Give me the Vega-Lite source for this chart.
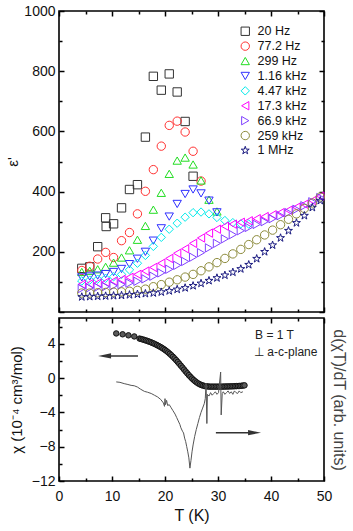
{
  "$schema": "https://vega.github.io/schema/vega-lite/v6.json",
  "padding": {"left": 5, "top": 3, "right": 0, "bottom": 0},
  "background": "white",
  "config": {
    "font": "Liberation Sans",
    "view": {"stroke": "#000", "strokeWidth": 1.6},
    "axis": {"labelFont": "Liberation Sans", "titleFont": "Liberation Sans", "labelFontSize": 14, "titleFontSize": 15, "titleFontWeight": "normal", "labelColor": "#111", "titleColor": "#111", "tickColor": "#000", "tickWidth": 1.5, "domain": false, "grid": false, "labelOverlap": false, "labelFlush": false}
  },
  "datasets": {
    "eps": [
      {"f":"20 Hz","T":4.3,"e":145},{"f":"20 Hz","T":5.8,"e":150},{"f":"20 Hz","T":7.3,"e":217},{"f":"20 Hz","T":8.8,"e":313},{"f":"20 Hz","T":8.9,"e":284},{"f":"20 Hz","T":10.3,"e":293},{"f":"20 Hz","T":11.8,"e":346},{"f":"20 Hz","T":13.3,"e":407},{"f":"20 Hz","T":14.8,"e":423},{"f":"20 Hz","T":16.3,"e":581},{"f":"20 Hz","T":17.8,"e":783},{"f":"20 Hz","T":19.3,"e":737},{"f":"20 Hz","T":20.8,"e":791},{"f":"20 Hz","T":22.3,"e":731},{"f":"20 Hz","T":23.8,"e":633},{"f":"20 Hz","T":25.3,"e":451},
      {"f":"77.2 Hz","T":4.3,"e":138},{"f":"77.2 Hz","T":5.8,"e":152},{"f":"77.2 Hz","T":7.3,"e":176},{"f":"77.2 Hz","T":8.8,"e":198},{"f":"77.2 Hz","T":10.3,"e":181},{"f":"77.2 Hz","T":11.8,"e":237},{"f":"77.2 Hz","T":13.3,"e":264},{"f":"77.2 Hz","T":14.8,"e":326},{"f":"77.2 Hz","T":16.3,"e":401},{"f":"77.2 Hz","T":17.8,"e":473},{"f":"77.2 Hz","T":19.3,"e":551},{"f":"77.2 Hz","T":20.8,"e":620},{"f":"77.2 Hz","T":22.3,"e":634},{"f":"77.2 Hz","T":23.8,"e":598},{"f":"77.2 Hz","T":25.3,"e":534},{"f":"77.2 Hz","T":26.8,"e":435},
      {"f":"299 Hz","T":4.3,"e":133},{"f":"299 Hz","T":5.8,"e":137},{"f":"299 Hz","T":7.3,"e":142},{"f":"299 Hz","T":8.8,"e":150},{"f":"299 Hz","T":10.3,"e":164},{"f":"299 Hz","T":11.8,"e":181},{"f":"299 Hz","T":13.3,"e":205},{"f":"299 Hz","T":14.8,"e":240},{"f":"299 Hz","T":16.3,"e":286},{"f":"299 Hz","T":17.8,"e":340},{"f":"299 Hz","T":19.3,"e":396},{"f":"299 Hz","T":20.8,"e":459},{"f":"299 Hz","T":22.3,"e":503},{"f":"299 Hz","T":23.8,"e":513},{"f":"299 Hz","T":25.3,"e":490},{"f":"299 Hz","T":26.8,"e":437},{"f":"299 Hz","T":28.3,"e":373},{"f":"299 Hz","T":29.8,"e":334},
      {"f":"1.16 kHz","T":4.3,"e":115},{"f":"1.16 kHz","T":5.8,"e":118},{"f":"1.16 kHz","T":7.3,"e":121},{"f":"1.16 kHz","T":8.8,"e":126},{"f":"1.16 kHz","T":10.3,"e":133},{"f":"1.16 kHz","T":11.8,"e":143},{"f":"1.16 kHz","T":13.3,"e":159},{"f":"1.16 kHz","T":14.8,"e":177},{"f":"1.16 kHz","T":16.3,"e":200},{"f":"1.16 kHz","T":17.8,"e":237},{"f":"1.16 kHz","T":19.3,"e":278},{"f":"1.16 kHz","T":20.8,"e":317},{"f":"1.16 kHz","T":22.3,"e":359},{"f":"1.16 kHz","T":23.8,"e":392},{"f":"1.16 kHz","T":25.3,"e":407},{"f":"1.16 kHz","T":26.8,"e":394},{"f":"1.16 kHz","T":28.3,"e":370},{"f":"1.16 kHz","T":29.8,"e":331},
      {"f":"4.47 kHz","T":4.3,"e":103},{"f":"4.47 kHz","T":5.8,"e":106},{"f":"4.47 kHz","T":7.3,"e":109},{"f":"4.47 kHz","T":8.8,"e":112},{"f":"4.47 kHz","T":10.3,"e":117},{"f":"4.47 kHz","T":11.8,"e":125},{"f":"4.47 kHz","T":13.3,"e":140},{"f":"4.47 kHz","T":14.8,"e":162},{"f":"4.47 kHz","T":16.3,"e":188},{"f":"4.47 kHz","T":17.8,"e":218},{"f":"4.47 kHz","T":19.3,"e":248},{"f":"4.47 kHz","T":20.8,"e":275},{"f":"4.47 kHz","T":22.3,"e":295},{"f":"4.47 kHz","T":23.8,"e":315},{"f":"4.47 kHz","T":25.3,"e":330},{"f":"4.47 kHz","T":26.8,"e":332},{"f":"4.47 kHz","T":28.3,"e":326},{"f":"4.47 kHz","T":29.8,"e":314},{"f":"4.47 kHz","T":31.3,"e":304},{"f":"4.47 kHz","T":32.8,"e":297},{"f":"4.47 kHz","T":34.3,"e":293},{"f":"4.47 kHz","T":35.8,"e":292},
      {"f":"17.3 kHz","T":4.3,"e":92},{"f":"17.3 kHz","T":5.8,"e":94},{"f":"17.3 kHz","T":7.3,"e":96},{"f":"17.3 kHz","T":8.8,"e":99},{"f":"17.3 kHz","T":10.3,"e":103},{"f":"17.3 kHz","T":11.8,"e":108},{"f":"17.3 kHz","T":13.3,"e":115},{"f":"17.3 kHz","T":14.8,"e":125},{"f":"17.3 kHz","T":16.3,"e":136},{"f":"17.3 kHz","T":17.8,"e":148},{"f":"17.3 kHz","T":19.3,"e":162},{"f":"17.3 kHz","T":20.8,"e":178},{"f":"17.3 kHz","T":22.3,"e":195},{"f":"17.3 kHz","T":23.8,"e":210},{"f":"17.3 kHz","T":25.3,"e":228},{"f":"17.3 kHz","T":26.8,"e":246},{"f":"17.3 kHz","T":28.3,"e":262},{"f":"17.3 kHz","T":29.8,"e":275},{"f":"17.3 kHz","T":31.3,"e":285},{"f":"17.3 kHz","T":32.8,"e":292},{"f":"17.3 kHz","T":34.3,"e":298},{"f":"17.3 kHz","T":35.8,"e":303},{"f":"17.3 kHz","T":37.3,"e":310},{"f":"17.3 kHz","T":38.8,"e":317},{"f":"17.3 kHz","T":40.3,"e":323},{"f":"17.3 kHz","T":41.8,"e":330},{"f":"17.3 kHz","T":43.3,"e":338},{"f":"17.3 kHz","T":44.8,"e":348},{"f":"17.3 kHz","T":46.3,"e":358},{"f":"17.3 kHz","T":47.8,"e":370},{"f":"17.3 kHz","T":49.3,"e":385},
      {"f":"66.9 kHz","T":4.3,"e":78},{"f":"66.9 kHz","T":5.8,"e":80},{"f":"66.9 kHz","T":7.3,"e":82},{"f":"66.9 kHz","T":8.8,"e":84},{"f":"66.9 kHz","T":10.3,"e":87},{"f":"66.9 kHz","T":11.8,"e":91},{"f":"66.9 kHz","T":13.3,"e":96},{"f":"66.9 kHz","T":14.8,"e":102},{"f":"66.9 kHz","T":16.3,"e":110},{"f":"66.9 kHz","T":17.8,"e":119},{"f":"66.9 kHz","T":19.3,"e":130},{"f":"66.9 kHz","T":20.8,"e":142},{"f":"66.9 kHz","T":22.3,"e":155},{"f":"66.9 kHz","T":23.8,"e":168},{"f":"66.9 kHz","T":25.3,"e":182},{"f":"66.9 kHz","T":26.8,"e":197},{"f":"66.9 kHz","T":28.3,"e":213},{"f":"66.9 kHz","T":29.8,"e":228},{"f":"66.9 kHz","T":31.3,"e":243},{"f":"66.9 kHz","T":32.8,"e":257},{"f":"66.9 kHz","T":34.3,"e":270},{"f":"66.9 kHz","T":35.8,"e":281},{"f":"66.9 kHz","T":37.3,"e":291},{"f":"66.9 kHz","T":38.8,"e":300},{"f":"66.9 kHz","T":40.3,"e":310},{"f":"66.9 kHz","T":41.8,"e":320},{"f":"66.9 kHz","T":43.3,"e":330},{"f":"66.9 kHz","T":44.8,"e":341},{"f":"66.9 kHz","T":46.3,"e":353},{"f":"66.9 kHz","T":47.8,"e":366},{"f":"66.9 kHz","T":49.3,"e":380},
      {"f":"259 kHz","T":4.3,"e":63},{"f":"259 kHz","T":5.8,"e":63},{"f":"259 kHz","T":7.3,"e":64},{"f":"259 kHz","T":8.8,"e":65},{"f":"259 kHz","T":10.3,"e":66},{"f":"259 kHz","T":11.8,"e":67},{"f":"259 kHz","T":13.3,"e":69},{"f":"259 kHz","T":14.8,"e":72},{"f":"259 kHz","T":16.3,"e":76},{"f":"259 kHz","T":17.8,"e":84},{"f":"259 kHz","T":19.3,"e":91},{"f":"259 kHz","T":20.8,"e":99},{"f":"259 kHz","T":22.3,"e":107},{"f":"259 kHz","T":23.8,"e":116},{"f":"259 kHz","T":25.3,"e":125},{"f":"259 kHz","T":26.8,"e":137},{"f":"259 kHz","T":28.3,"e":150},{"f":"259 kHz","T":29.8,"e":164},{"f":"259 kHz","T":31.3,"e":178},{"f":"259 kHz","T":32.8,"e":193},{"f":"259 kHz","T":34.3,"e":208},{"f":"259 kHz","T":35.8,"e":224},{"f":"259 kHz","T":37.3,"e":240},{"f":"259 kHz","T":38.8,"e":256},{"f":"259 kHz","T":40.3,"e":272},{"f":"259 kHz","T":41.8,"e":290},{"f":"259 kHz","T":43.3,"e":308},{"f":"259 kHz","T":44.8,"e":326},{"f":"259 kHz","T":46.3,"e":344},{"f":"259 kHz","T":47.8,"e":362},{"f":"259 kHz","T":49.3,"e":382},
      {"f":"1 MHz","T":4.3,"e":50},{"f":"1 MHz","T":5.8,"e":51},{"f":"1 MHz","T":7.3,"e":52},{"f":"1 MHz","T":8.8,"e":53},{"f":"1 MHz","T":10.3,"e":54},{"f":"1 MHz","T":11.8,"e":55},{"f":"1 MHz","T":13.3,"e":57},{"f":"1 MHz","T":14.8,"e":59},{"f":"1 MHz","T":16.3,"e":61},{"f":"1 MHz","T":17.8,"e":63},{"f":"1 MHz","T":19.3,"e":66},{"f":"1 MHz","T":20.8,"e":70},{"f":"1 MHz","T":22.3,"e":75},{"f":"1 MHz","T":23.8,"e":80},{"f":"1 MHz","T":25.3,"e":87},{"f":"1 MHz","T":26.8,"e":95},{"f":"1 MHz","T":28.3,"e":104},{"f":"1 MHz","T":29.8,"e":113},{"f":"1 MHz","T":31.3,"e":122},{"f":"1 MHz","T":32.8,"e":132},{"f":"1 MHz","T":34.3,"e":143},{"f":"1 MHz","T":35.8,"e":157},{"f":"1 MHz","T":37.3,"e":177},{"f":"1 MHz","T":38.8,"e":200},{"f":"1 MHz","T":40.3,"e":222},{"f":"1 MHz","T":41.8,"e":246},{"f":"1 MHz","T":43.3,"e":270},{"f":"1 MHz","T":44.8,"e":296},{"f":"1 MHz","T":46.3,"e":320},{"f":"1 MHz","T":47.8,"e":347},{"f":"1 MHz","T":49.3,"e":370}
    ],
    "chi": [
      {"T":10.8,"c":5.2},{"T":12.0,"c":5.1},{"T":13.1,"c":4.98},{"T":14.2,"c":4.85},
      {"T":15.2,"c":4.6},{"T":15.5,"c":4.55},{"T":15.8,"c":4.5},{"T":16.1,"c":4.44},{"T":16.4,"c":4.38},{"T":16.7,"c":4.32},{"T":17.0,"c":4.25},{"T":17.3,"c":4.18},{"T":17.6,"c":4.1},{"T":17.9,"c":4.02},{"T":18.2,"c":3.93},{"T":18.5,"c":3.84},{"T":18.8,"c":3.74},{"T":19.1,"c":3.64},{"T":19.4,"c":3.53},{"T":19.7,"c":3.41},{"T":20.0,"c":3.28},{"T":20.3,"c":3.14},{"T":20.6,"c":2.99},{"T":20.9,"c":2.83},{"T":21.2,"c":2.66},{"T":21.5,"c":2.48},{"T":21.8,"c":2.29},{"T":22.1,"c":2.09},{"T":22.4,"c":1.88},{"T":22.7,"c":1.66},{"T":23.0,"c":1.44},{"T":23.3,"c":1.22},{"T":23.6,"c":0.99},{"T":23.9,"c":0.77},{"T":24.2,"c":0.55},{"T":24.5,"c":0.34},{"T":24.8,"c":0.14},{"T":25.1,"c":-0.05},{"T":25.4,"c":-0.22},{"T":25.7,"c":-0.38},{"T":26.0,"c":-0.52},{"T":26.3,"c":-0.64},{"T":26.6,"c":-0.74},{"T":26.9,"c":-0.82},{"T":27.2,"c":-0.88},{"T":27.5,"c":-0.93},{"T":27.8,"c":-0.96},{"T":28.1,"c":-0.98},{"T":28.4,"c":-1.0},{"T":28.7,"c":-1.0},{"T":29.0,"c":-1.0},{"T":29.3,"c":-1.0},{"T":29.6,"c":-1.0},{"T":29.9,"c":-1.0},{"T":30.2,"c":-1.0},{"T":30.5,"c":-1.0},{"T":30.8,"c":-1.0},{"T":31.1,"c":-0.99},{"T":31.4,"c":-0.99},{"T":31.7,"c":-0.98},{"T":32.0,"c":-0.98},{"T":32.3,"c":-0.97},{"T":32.6,"c":-0.97},{"T":32.9,"c":-0.96},{"T":33.2,"c":-0.95},{"T":33.5,"c":-0.94},{"T":33.8,"c":-0.93},{"T":34.1,"c":-0.92},{"T":34.4,"c":-0.9},{"T":34.7,"c":-0.88},{"T":35.0,"c":-0.85}
    ],
    "deriv": [
      {"T":10.8,"d":-0.45},{"T":11.5,"d":-0.5},{"T":12.3,"d":-0.65},{"T":13.0,"d":-0.75},{"T":13.6,"d":-0.85},{"T":14.2,"d":-0.9},{"T":14.8,"d":-1.05},{"T":15.4,"d":-1.3},{"T":16.1,"d":-1.55},{"T":16.7,"d":-1.65},{"T":17.4,"d":-1.8},{"T":18.0,"d":-2.0},{"T":18.6,"d":-2.2},{"T":19.2,"d":-2.5},{"T":19.7,"d":-2.9},{"T":19.9,"d":-3.3},{"T":20.0,"d":-2.4},{"T":20.1,"d":-3.1},{"T":20.3,"d":-2.6},{"T":20.5,"d":-3.2},{"T":20.8,"d":-3.1},{"T":21.1,"d":-3.4},{"T":21.5,"d":-3.8},{"T":21.9,"d":-4.2},{"T":22.2,"d":-4.6},{"T":22.5,"d":-5.0},{"T":22.8,"d":-5.4},{"T":23.0,"d":-5.8},{"T":23.3,"d":-6.2},{"T":23.5,"d":-6.4},{"T":23.7,"d":-7.0},{"T":23.9,"d":-7.4},{"T":24.1,"d":-8.0},{"T":24.3,"d":-8.6},{"T":24.5,"d":-9.3},{"T":24.7,"d":-10.5},{"T":24.9,"d":-9.6},{"T":25.1,"d":-8.6},{"T":25.3,"d":-7.8},{"T":25.6,"d":-6.8},{"T":25.9,"d":-6.0},{"T":26.2,"d":-5.3},{"T":26.5,"d":-4.6},{"T":26.8,"d":-4.0},{"T":27.1,"d":-3.5},{"T":27.4,"d":-3.0},{"T":27.6,"d":-2.4},{"T":27.75,"d":-0.6},{"T":27.9,"d":-5.3},{"T":28.0,"d":-1.9},{"T":28.3,"d":-2.1},{"T":28.6,"d":-1.7},{"T":28.9,"d":-2.0},{"T":29.2,"d":-1.8},{"T":29.5,"d":-1.6},{"T":29.8,"d":-1.9},{"T":30.1,"d":-1.7},{"T":30.5,"d":0.7},{"T":30.6,"d":-4.3},{"T":30.8,"d":-1.8},{"T":31.0,"d":-1.6},{"T":31.3,"d":-1.9},{"T":31.6,"d":-1.7},{"T":31.9,"d":-1.5},{"T":32.2,"d":-1.8},{"T":32.5,"d":-1.6},{"T":32.8,"d":-1.9},{"T":33.1,"d":-1.5},{"T":33.4,"d":-1.7},{"T":33.7,"d":-1.8},{"T":34.0,"d":-1.5},{"T":34.3,"d":-1.7},{"T":34.7,"d":-1.6}
    ]
  },
  "vconcat": [
    {
      "width": 265,
      "height": 301,
      "resolve": {"axis": {"x": "independent", "y": "independent"}},
      "layer": [
        {
          "data": {"name": "eps"},
          "mark": {"type": "point", "filled": false, "size": 70, "strokeWidth": 1, "opacity": 1},
          "encoding": {
            "x": {"field": "T", "type": "quantitative", "scale": {"domain": [0, 50], "nice": false},
              "axis": {"orient": "bottom", "title": null, "labels": false, "values": [0,10,20,30,40,50], "offset": -5, "tickSize": 5}},
            "y": {"field": "e", "type": "quantitative", "scale": {"domain": [0, 1000], "nice": false},
              "axis": {"orient": "left", "title": "ε'", "titlePadding": 3, "format": "d", "values": [0,200,400,600,800,1000], "labelExpr": "datum.value > 0 ? datum.label : ''", "labelPadding": 4, "offset": -5, "tickSize": 5}},
            "color": {"field": "f", "type": "nominal",
              "scale": {"domain": ["20 Hz","77.2 Hz","299 Hz","1.16 kHz","4.47 kHz","17.3 kHz","66.9 kHz","259 kHz","1 MHz"],
                        "range": ["#333333","#ff3030","#22dd22","#3030ff","#00eaea","#ff00ff","#8040ff","#8c8a3a","#1a1a80"]},
              "legend": {"orient": "none", "legendX": 180, "legendY": 14, "title": null, "labelFontSize": 12.5, "labelFont": "Liberation Sans", "labelColor": "#111", "symbolSize": 70, "symbolStrokeWidth": 1, "rowPadding": 1.9, "labelOffset": 6, "padding": 0}},
            "shape": {"field": "f", "type": "nominal",
              "scale": {"domain": ["20 Hz","77.2 Hz","299 Hz","1.16 kHz","4.47 kHz","17.3 kHz","66.9 kHz","259 kHz","1 MHz"],
                        "range": ["square","circle","triangle-up","triangle-down","diamond","triangle-left","triangle-right","circle","M0,-1L0.2245,-0.309L0.9511,-0.309L0.3633,0.118L0.5878,0.809L0,0.382L-0.5878,0.809L-0.3633,0.118L-0.9511,-0.309L-0.2245,-0.309Z"]},
              "legend": {"orient": "none", "legendX": 180, "legendY": 14, "title": null, "labelFontSize": 12.5, "labelFont": "Liberation Sans", "labelColor": "#111", "symbolSize": 70, "symbolStrokeWidth": 1, "rowPadding": 1.9, "labelOffset": 6, "padding": 0}}
          }
        },
        {
          "data": {"name": "eps"},
          "transform": [{"filter": "false"}],
          "mark": {"type": "point"},
          "encoding": {
            "x": {"field": "T", "type": "quantitative", "axis": {"orient": "bottom", "title": null, "labels": false, "values": [5,15,25,35,45], "offset": -3, "tickSize": 3}},
            "y": {"field": "e", "type": "quantitative", "axis": {"orient": "left", "title": null, "labels": false, "values": [100,300,500,700,900], "offset": -3, "tickSize": 3}}
          }
        },
        {
          "data": {"name": "eps"},
          "transform": [{"filter": "false"}],
          "mark": {"type": "point"},
          "encoding": {
            "x": {"field": "T", "type": "quantitative", "axis": {"orient": "top", "title": null, "labels": false, "values": [0,10,20,30,40,50], "offset": -5, "tickSize": 5}},
            "y": {"field": "e", "type": "quantitative", "axis": {"orient": "right", "title": null, "labels": false, "values": [0,200,400,600,800,1000], "offset": -5, "tickSize": 5}}
          }
        },
        {
          "data": {"name": "eps"},
          "transform": [{"filter": "false"}],
          "mark": {"type": "point"},
          "encoding": {
            "x": {"field": "T", "type": "quantitative", "axis": {"orient": "top", "title": null, "labels": false, "values": [5,15,25,35,45], "offset": -3, "tickSize": 3}},
            "y": {"field": "e", "type": "quantitative", "axis": {"orient": "right", "title": null, "labels": false, "values": [100,300,500,700,900], "offset": -3, "tickSize": 3}}
          }
        }
      ]
    },
    {
      "width": 265,
      "height": 163,
      "resolve": {"axis": {"x": "independent", "y": "independent"}},
      "layer": [
        {
          "data": {"name": "chi"},
          "mark": {"type": "point", "filled": true, "size": 30, "fill": "#5a5a5a", "stroke": "#111", "strokeWidth": 1, "opacity": 1},
          "encoding": {
            "x": {"field": "T", "type": "quantitative", "scale": {"domain": [0, 50], "nice": false},
              "axis": {"orient": "bottom", "title": "T (K)", "titleFontSize": 16, "titlePadding": 4, "labelPadding": 8, "values": [0,10,20,30,40,50], "offset": -5, "tickSize": 5}},
            "y": {"field": "c", "type": "quantitative", "scale": {"domain": [-12, 7], "nice": false},
              "axis": {"orient": "left", "title": "χ (10⁻⁴ cm³/mol)", "titlePadding": 7, "labelPadding": 4, "values": [-12,-8,-4,0,4], "offset": -5, "tickSize": 5}}
          }
        },
        {
          "data": {"name": "deriv"},
          "mark": {"type": "line", "color": "#555", "strokeWidth": 1},
          "encoding": {
            "x": {"field": "T", "type": "quantitative", "axis": {"orient": "top", "title": null, "labels": false, "values": [0,10,20,30,40,50], "offset": -5, "tickSize": 5}},
            "y": {"field": "d", "type": "quantitative", "axis": {"orient": "right", "title": "d(χT)/dT (arb. units)", "titleAngle": 90, "titleFontSize": 16, "titleColor": "#444", "titlePadding": 6, "labels": false, "ticks": false}}
          }
        },
        {
          "data": {"name": "chi"},
          "transform": [{"filter": "false"}],
          "mark": {"type": "point"},
          "encoding": {
            "x": {"field": "T", "type": "quantitative", "axis": {"orient": "bottom", "title": null, "labels": false, "values": [5,15,25,35,45], "offset": -3, "tickSize": 3}},
            "y": {"field": "c", "type": "quantitative", "axis": {"orient": "left", "title": null, "labels": false, "values": [-10,-6,-2,2,6], "offset": -3, "tickSize": 3}}
          }
        },
        {
          "data": {"name": "chi"},
          "transform": [{"filter": "false"}],
          "mark": {"type": "point"},
          "encoding": {
            "x": {"field": "T", "type": "quantitative", "axis": {"orient": "top", "title": null, "labels": false, "values": [5,15,25,35,45], "offset": -3, "tickSize": 3}},
            "y": {"field": "c", "type": "quantitative", "axis": null}
          }
        },
        {
          "data": {"values": [{"a": 8.6, "b": 14.9, "y": 2.58}, {"a": 29.6, "b": 36.9, "y": -6.37}]},
          "mark": {"type": "rule", "color": "#333", "strokeWidth": 1.5},
          "encoding": {
            "x": {"field": "a", "type": "quantitative", "axis": null},
            "x2": {"field": "b"},
            "y": {"field": "y", "type": "quantitative", "axis": null}
          }
        },
        {
          "data": {"values": [{"a": 8.6, "y": 2.58}]},
          "mark": {"type": "point", "shape": "M-1,0L1,-0.4L1,0.4Z", "size": 169, "filled": true, "color": "#333", "opacity": 1},
          "encoding": {
            "x": {"field": "a", "type": "quantitative", "axis": null},
            "y": {"field": "y", "type": "quantitative", "axis": null}
          }
        },
        {
          "data": {"values": [{"a": 36.9, "y": -6.37}]},
          "mark": {"type": "point", "shape": "M1,0L-1,-0.4L-1,0.4Z", "size": 169, "filled": true, "color": "#333", "opacity": 1},
          "encoding": {
            "x": {"field": "a", "type": "quantitative", "axis": null},
            "y": {"field": "y", "type": "quantitative", "axis": null}
          }
        },
        {
          "data": {"values": [{"a": 37.0, "y": 5.0, "t": "B = 1 T"}, {"a": 36.8, "y": 3.0, "t": "⊥ a-c-plane"}]},
          "mark": {"type": "text", "align": "left", "baseline": "middle", "fontSize": 12, "font": "Liberation Sans", "color": "#222"},
          "encoding": {
            "x": {"field": "a", "type": "quantitative", "axis": null},
            "y": {"field": "y", "type": "quantitative", "axis": null},
            "text": {"field": "t"}
          }
        }
      ]
    }
  ],
  "spacing": 6,
  "bounds": "flush"
}
